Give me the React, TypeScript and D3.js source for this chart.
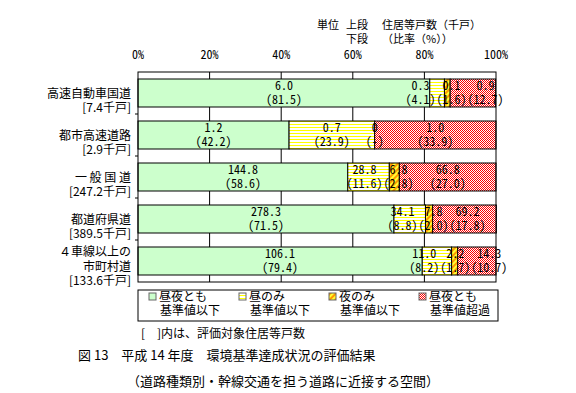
import React from "react";
import * as d3 from "d3";

// 道路種類別（カテゴリ）
const categories = ["高速自動車国道", "都市高速道路", "一般国道", "都道府県道", "市町村道"];
const categoryLines = [
  ["高速自動車国道", "[7.4千戸]"],
  ["都市高速道路", "[2.9千戸]"],
  ["一 般 国 道", "[247.2千戸]"],
  ["都道府県道", "[389.5千戸]"],
  ["４車線以上の", "市町村道", "[133.6千戸]"],
];

// 上段：住居等戸数（千戸）
const bothBelow = [6.0, 1.2, 144.8, 278.3, 106.1];
const dayOnly = [0.3, 0.7, 28.8, 34.1, 11.0];
const nightOnly = [0.1, 0, 6.8, 7.8, 2.2];
const bothOver = [0.9, 1.0, 66.8, 69.2, 14.3];

// 下段：比率（%）
const bothBelowPct = [81.5, 42.2, 58.6, 71.5, 79.4];
const dayOnlyPct = [4.1, 23.9, 11.6, 8.8, 8.2];
const nightOnlyPct = [1.6, 0, 2.8, 2.0, 1.7];
const bothOverPct = [12.7, 33.9, 27.0, 17.8, 10.7];

const xTickValues = [0, 20, 40, 60, 80, 100];

const legendItems = [
  ["昼夜とも", "基準値以下"],
  ["昼のみ", "基準値以下"],
  ["夜のみ", "基準値以下"],
  ["昼夜とも", "基準値超過"],
];

const series = [
  { key: "green", vals: bothBelow, pcts: bothBelowPct },
  { key: "yellow", vals: dayOnly, pcts: dayOnlyPct },
  { key: "orange", vals: nightOnly, pcts: nightOnlyPct },
  { key: "red", vals: bothOver, pcts: bothOverPct },
];

const JP = '"Noto Sans CJK JP", sans-serif';
const MONO = '"Noto Sans Mono CJK JP", "DejaVu Sans Mono", monospace';
const NUM_SIZE = 12;
const CHAR_W = NUM_SIZE * 0.5;

const fills: Record<string, string> = {
  green: "#ccffcc",
  yellow: "url(#pYellow)",
  orange: "url(#pOrange)",
  red: "url(#pRed)",
};

const fmtVal = (v: number) => (v === 0 ? "0" : v.toFixed(1));
const fmtPct = (v: number) => (v === 0 ? "(-)" : `(${v.toFixed(1)})`);

// push neighbouring labels apart so they overlap less (1-D relaxation)
function spreadLabels(centers: number[], widths: number[], gap: number, maxRight: number) {
  const c = centers.slice();
  for (let it = 0; it < 100; it++) {
    for (let k = 0; k < c.length - 1; k++) {
      const ov = c[k] + widths[k] / 2 + gap - (c[k + 1] - widths[k + 1] / 2);
      if (ov > 0) {
        c[k] -= ov / 2;
        c[k + 1] += ov / 2;
      }
    }
    const last = c.length - 1;
    const over = c[last] + widths[last] / 2 - maxRight;
    if (over > 0) c[last] -= over;
  }
  return c;
}

const App = () => {
  const width = 576, height = 393;
  const left = 138, right = 496, top = 72, bottom = 282;

  const x = d3.scaleLinear().domain([0, 100]).range([left, right]);
  const y = d3.scaleBand<string>()
    .domain(categories)
    .range([top, bottom])
    .paddingInner(1 / 3)
    .paddingOuter(1 / 6);
  const bw = y.bandwidth();
  const step = y.step();

  const bars = categories.map((c, i) => {
    let acc = 0;
    const segs = series.map(s => {
      const x0 = acc;
      acc += s.pcts[i];
      return { c, i, key: s.key, x0, x1: acc, v: s.vals[i], p: s.pcts[i], lx: 0 };
    });
    const centers = segs.map(s => (x(s.x0) + x(s.x1)) / 2);
    const widths = segs.map(s => Math.max(fmtVal(s.v).length, fmtPct(s.p).length) * CHAR_W);
    const placed = spreadLabels(centers, widths, 1, right + 14);
    segs.forEach((s, k) => (s.lx = placed[k]));
    return segs;
  });

  return (
    <svg width={width} height={height} style={{ position: "absolute", left: 0, top: 0, background: "#fff" }}>
      <defs>
        <pattern id="pYellow" width="4" height="3" patternUnits="userSpaceOnUse">
          <rect width="4" height="3" fill="#ffffff" />
          <rect y="1" width="4" height="1" fill="#ffff00" />
        </pattern>
        <pattern id="pOrange" width="4" height="4" patternUnits="userSpaceOnUse" patternTransform="rotate(45)">
          <rect width="4" height="4" fill="#ffff33" />
          <rect width="2" height="4" fill="#ff9900" />
        </pattern>
        <pattern id="pRed" width="2" height="2" patternUnits="userSpaceOnUse">
          <rect width="2" height="2" fill="#ffffff" />
          <rect width="1" height="1" fill="#ff0000" />
          <rect x="1" y="1" width="1" height="1" fill="#ff0000" />
        </pattern>
      </defs>

      {/* unit note */}
      <g fontFamily={JP} fontSize={11} fill="#000">
        <text x={317} y={29}>単位</text>
        <text x={346} y={29}>上段</text>
        <text x={382} y={29}>住居等戸数（千戸）</text>
        <text x={346} y={43}>下段</text>
        <text x={382} y={43}>（比率（%））</text>
      </g>

      {/* x tick labels */}
      <g fontFamily={MONO} fontSize={NUM_SIZE} textAnchor="middle">
        {xTickValues.map(t => (
          <text key={t} x={x(t)} y={59}>{t}%</text>
        ))}
      </g>

      {/* gridlines */}
      {xTickValues.slice(1, -1).map(t => (
        <line key={t} x1={x(t)} x2={x(t)} y1={top} y2={bottom} stroke="#000" />
      ))}

      {/* bars */}
      {bars.flat().map(b => (
        <rect
          key={b.c + b.key}
          x={x(b.x0)}
          y={y(b.c)}
          width={x(b.x1) - x(b.x0)}
          height={bw}
          fill={fills[b.key]}
          stroke="#000"
          strokeWidth={1}
        />
      ))}

      {/* value labels */}
      <g fontFamily={MONO} fontSize={NUM_SIZE} textAnchor="middle" fill="#000">
        {bars.flat().map(b => {
          const by = y(b.c)!;
          return (
            <g key={"l" + b.c + b.key}>
              <text x={b.lx} y={by + 11}>{fmtVal(b.v)}</text>
              <text x={b.lx} y={by + 25}>{fmtPct(b.p)}</text>
            </g>
          );
        })}
      </g>

      {/* plot frame */}
      <rect x={left} y={top} width={right - left} height={bottom - top} fill="none" stroke="#000" />

      {/* left axis ticks at band boundaries */}
      {categories.slice(0, -1).map(c => {
        const yy = y(c)! + bw + (step - bw) / 2;
        return <line key={"t" + c} x1={left - 3} x2={left} y1={yy} y2={yy} stroke="#000" />;
      })}

      {/* category labels */}
      <g fontFamily={JP} fontSize={12} textAnchor="end" fill="#000">
        {categories.map((c, i) => {
          const lines = categoryLines[i];
          const cy = y(c)! + bw / 2;
          const start = lines.length === 3 ? cy - 9 : cy + 1;
          const lh = lines.length === 3 ? 14.5 : 13.5;
          return lines.map((ln, j) => (
            <text key={c + j} x={131} y={start + j * lh} dy="0.35em">{ln}</text>
          ));
        })}
      </g>

      {/* legend */}
      <rect x={138} y={290} width={360} height={31} fill="#fff" stroke="#000" />
      <g fontFamily={JP} fontSize={12} fill="#000">
        {legendItems.map((it, i) => {
          const x0 = 149 + i * 90;
          return (
            <g key={"lg" + i}>
              <rect x={x0} y={293} width={7} height={7} fill={fills[series[i].key]} stroke="#666" />
              <text x={x0 + 10} y={301}>{it[0]}</text>
              <text x={x0 + 11} y={315}>{it[1]}</text>
            </g>
          );
        })}
      </g>

      <text x={141} y={338} fontFamily={JP} fontSize={12}>[　]内は、評価対象住居等戸数</text>

      {/* caption */}
      <g fontFamily={JP} fontSize={13} fill="#000">
        <text x={78} y={360}>図 13　平成 14 年度　環境基準達成状況の評価結果</text>
        <text x={127} y={386}>（道路種類別・幹線交通を担う道路に近接する空間）</text>
      </g>
    </svg>
  );
};

export default App;
